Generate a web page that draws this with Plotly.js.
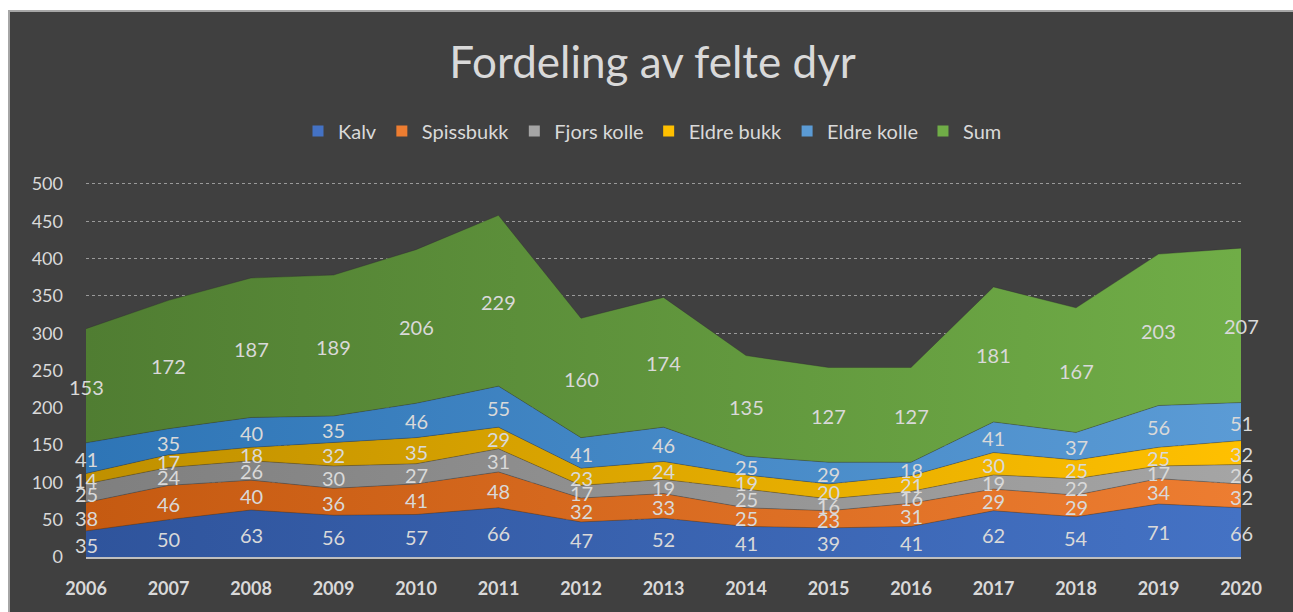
<!DOCTYPE html>
<html>
<head>
<meta charset="utf-8">
<script src="https://cdn.plot.ly/plotly-3.0.1.min.js"></script>
<style>
  html, body { margin: 0; padding: 0; background: #ffffff; overflow: hidden; }
  #wrap { position: absolute; left: 8px; top: 10px; width: 1285px; height: 602px;
          border-left: 2px solid #a6a6a6; border-top: 2px solid #a6a6a6; background: #404040; overflow: hidden; }
  #chart { width: 1285px; height: 602px; }
</style>
</head>
<body>
<div id="wrap"><div id="chart"></div></div>
<script>
const years = [2006, 2007, 2008, 2009, 2010, 2011, 2012, 2013, 2014, 2015, 2016, 2017, 2018, 2019, 2020];
const kalv       = [35, 50, 63, 56, 57, 66, 47, 52, 41, 39, 41, 62, 54, 71, 66];
const spissbukk  = [38, 46, 40, 36, 41, 48, 32, 33, 25, 23, 31, 29, 29, 34, 32];
const fjorsKolle = [25, 24, 26, 30, 27, 31, 17, 19, 25, 16, 16, 19, 22, 17, 26];
const eldreBukk  = [14, 17, 18, 32, 35, 29, 23, 24, 19, 20, 21, 30, 25, 25, 32];
const eldreKolle = [41, 35, 40, 35, 46, 55, 41, 46, 25, 29, 18, 41, 37, 56, 51];
const sum        = [153, 172, 187, 189, 206, 229, 160, 174, 135, 127, 127, 181, 167, 203, 207];
const yTicks = [0, 50, 100, 150, 200, 250, 300, 350, 400, 450, 500];

const series = [
  {name: 'Kalv',        v: kalv,       c0: '#2f549c', c1: '#4472c4'},
  {name: 'Spissbukk',   v: spissbukk,  c0: '#c55a11', c1: '#ed7d31'},
  {name: 'Fjors kolle', v: fjorsKolle, c0: '#7f7f7f', c1: '#a5a5a5'},
  {name: 'Eldre bukk',  v: eldreBukk,  c0: '#bf9000', c1: '#ffc000'},
  {name: 'Eldre kolle', v: eldreKolle, c0: '#2e75b6', c1: '#5b9bd5'},
  {name: 'Sum',         v: sum,        c0: '#507d32', c1: '#70ad47'}
];

const FONT = 'Lato, "Open Sans", sans-serif';
const LBL = '#d9d9d9';
const traces = [];
const annotations = [];
const base = years.map(() => 0);

series.forEach(s => {
  traces.push({
    x: years, y: s.v, type: 'scatter', mode: 'lines', stackgroup: 'one',
    line: {width: 0.6, color: 'rgba(40,40,40,0.55)'},
    fillcolor: s.c1,
    fillgradient: {type: 'horizontal', colorscale: [[0, s.c0], [1, s.c1]]},
    showlegend: false, hoverinfo: 'skip'
  });
});

series.forEach(s => {
  s.v.forEach((val, i) => {
    annotations.push({
      x: years[i], y: base[i] + val / 2, xref: 'x', yref: 'y',
      text: String(val), showarrow: false, yshift: -1,
      xanchor: 'center', yanchor: 'middle',
      font: {family: FONT, size: 20, color: LBL}
    });
    base[i] += val;
  });
});

series.forEach(s => {
  traces.push({
    x: [null], y: [null], type: 'scatter', mode: 'markers', name: s.name,
    marker: {symbol: 'square', size: 11, color: s.c1}, showlegend: true
  });
});

const layout = {
  width: 1285, height: 602,
  paper_bgcolor: '#404040', plot_bgcolor: '#404040',
  margin: {l: 76, r: 54, t: 169, b: 57},
  font: {family: FONT, color: LBL},
  title: {
    text: 'Fordeling av felte dyr',
    font: {family: FONT, size: 44, color: LBL},
    x: 0.5, xref: 'container', xanchor: 'center',
    y: 1 - 51 / 602, yref: 'container', yanchor: 'middle'
  },
  legend: {
    orientation: 'h', traceorder: 'normal', xref: 'container', yref: 'container',
    x: 0.5, xanchor: 'center', y: 1 - 119 / 602, yanchor: 'middle',
    font: {family: FONT, size: 20, color: LBL},
    itemwidth: 30, bgcolor: 'rgba(0,0,0,0)'
  },
  annotations: annotations,
  xaxis: {
    range: [2006, 2020], tickmode: 'array', tickvals: years, ticktext: years.map(String),
    showgrid: false, zeroline: false,
    showline: true, linecolor: '#bfbfbf', linewidth: 1.5,
    ticks: '', ticklabelstandoff: 15,
    tickfont: {family: FONT, size: 18, color: LBL, weight: 'bold'},
    fixedrange: true
  },
  yaxis: {
    range: [0, 504], tickmode: 'array', tickvals: yTicks, ticktext: yTicks.map(String),
    showgrid: true, gridcolor: '#9a9a9a', griddash: 'dot', gridwidth: 1,
    zeroline: false, showline: false, ticks: '', ticklabelstandoff: 22,
    tickfont: {family: FONT, size: 18, color: LBL},
    fixedrange: true
  },
  showlegend: true
};

Plotly.newPlot('chart', traces, layout, {displayModeBar: false, staticPlot: true});
</script>
</body>
</html>
